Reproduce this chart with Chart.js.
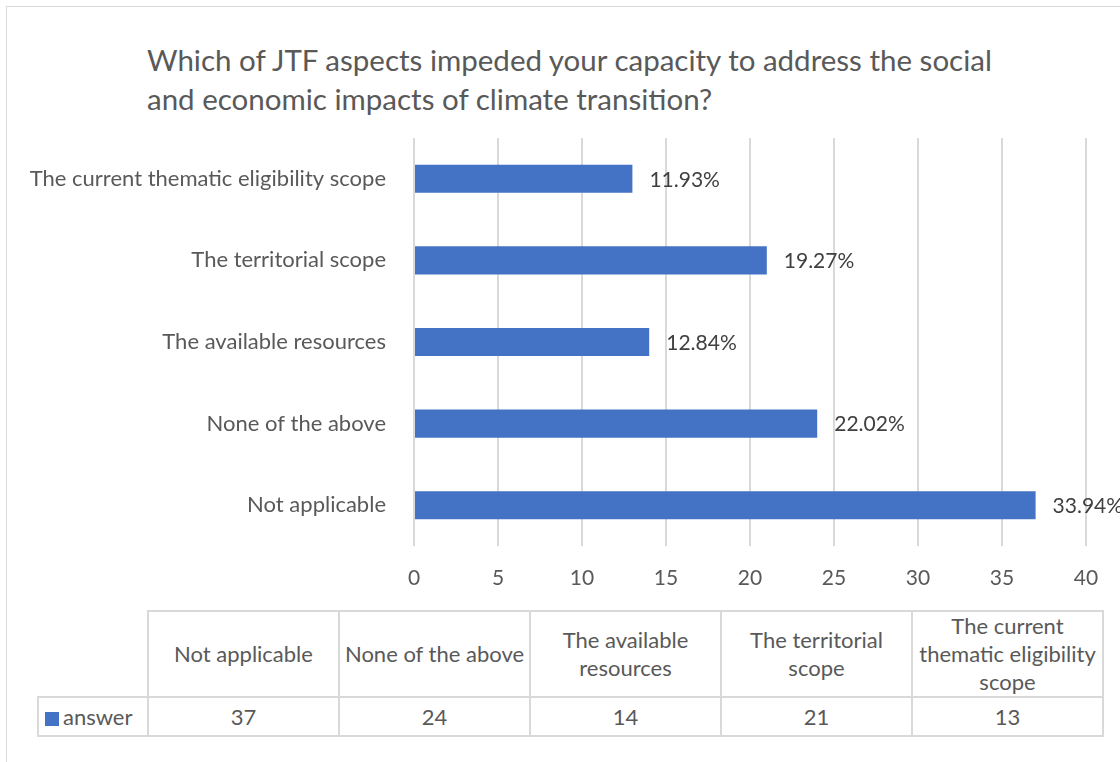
<!DOCTYPE html>
<html lang="en">
<head>
    <meta charset="UTF-8">
    <title>JTF aspects</title>
    <script src="https://cdn.jsdelivr.net/npm/chart.js"></script>
    <style>
        body { margin: 0; background: #fff; font-family: Lato, "Open Sans", sans-serif; }
        .wrap { position: relative; width: 1120px; height: 762px; overflow: hidden; }
        .frame { position: absolute; left: 6px; top: 6px; width: 1200px; height: 800px; border: 1px solid #d9d9d9; }
        .title { position: absolute; left: 147px; top: 40px; font-size: 29.5px; line-height: 39px; color: #595959; white-space: nowrap; }
        .chart-box { position: absolute; left: 0; top: 130px; width: 1120px; height: 480px; }
        table.data { position: absolute; left: 37px; top: 610px; border-collapse: collapse; table-layout: fixed; font-size: 22px; color: #595959; }
        table.data td { border: 2px solid #d9d9d9; text-align: center; padding: 0; line-height: 29px; }
        table.data tr.head td { height: 84px; line-height: 28px; }
        table.data tr.vals td { height: 37px; }
        table.data td.empty { border-top: none; border-left: none; }
        table.data td.key { text-align: left; padding-left: 6px; }
        .swatch { display: inline-block; width: 14px; height: 14px; background: #4472c4; margin-right: 4px; vertical-align: -1px; }
    </style>
</head>
<body>
    <div class="wrap">
        <div class="frame"></div>
        <div class="title">Which of JTF aspects impeded your capacity to address the social<br>and economic impacts of climate transition?</div>
        <div class="chart-box"><canvas id="barChart" width="1120" height="480"></canvas></div>
        <table class="data" id="dataTable"></table>
    </div>

    <script>
        // data (bottom to top on the chart, left to right in the table)
        const categories = [
            'Not applicable',
            'None of the above',
            'The available resources',
            'The territorial scope',
            'The current thematic eligibility scope'
        ];
        const answerValues = [37, 24, 14, 21, 13];
        const seriesName = 'answer';
        const xTicks = [0, 5, 10, 15, 20, 25, 30, 35, 40];

        const barColor = '#4472c4';
        const total = answerValues.reduce((a, b) => a + b, 0);

        // percentage labels next to the bars
        const pctLabels = {
            id: 'pctLabels',
            afterDatasetsDraw(chart) {
                const ctx = chart.ctx;
                const meta = chart.getDatasetMeta(0);
                ctx.save();
                ctx.font = '21px Lato, "Open Sans", sans-serif';
                ctx.fillStyle = '#404040';
                ctx.textAlign = 'left';
                ctx.textBaseline = 'middle';
                meta.data.forEach((bar, i) => {
                    const pct = (answerValues[i] / total * 100).toFixed(2) + '%';
                    ctx.fillText(pct, bar.x + 17, bar.y + 1);
                });
                ctx.restore();
            }
        };

        new Chart(document.getElementById('barChart'), {
            type: 'bar',
            data: {
                labels: categories,
                datasets: [{
                    label: seriesName,
                    data: answerValues,
                    backgroundColor: barColor,
                    barPercentage: 0.344,
                    categoryPercentage: 1
                }]
            },
            options: {
                indexAxis: 'y',
                responsive: false,
                animation: false,
                layout: { padding: { top: 8, right: 34, left: 0, bottom: 0 } },
                plugins: {
                    legend: { display: false },
                    tooltip: { enabled: false }
                },
                scales: {
                    x: {
                        min: xTicks[0],
                        max: xTicks[xTicks.length - 1],
                        afterBuildTicks: s => { s.ticks = xTicks.map(v => ({ value: v })); },
                        afterFit: s => { s.height = 64; },
                        border: { display: false },
                        grid: { color: '#d9d9d9', lineWidth: 2, drawTicks: false },
                        ticks: { color: '#595959', font: { family: 'Lato', size: 21 }, padding: 20 }
                    },
                    y: {
                        reverse: true,
                        afterFit: s => { s.width = 414; s.paddingTop = 0; s.paddingBottom = 0; },
                        border: { display: false },
                        grid: { display: false },
                        ticks: { color: '#595959', font: { family: 'Lato', size: 22 }, padding: 20 }
                    }
                }
            },
            plugins: [pctLabels]
        });

        // data table under the chart
        const table = document.getElementById('dataTable');
        let head = '<colgroup><col style="width:110px">' + categories.map(() => '<col style="width:191px">').join('') + '</colgroup>';
        head += '<tr class="head"><td class="empty"></td>' + categories.map(c => '<td>' + c + '</td>').join('') + '</tr>';
        head += '<tr class="vals"><td class="key"><span class="swatch"></span>' + seriesName + '</td>' +
            answerValues.map(v => '<td>' + v + '</td>').join('') + '</tr>';
        table.innerHTML = head;
    </script>
</body>
</html>
